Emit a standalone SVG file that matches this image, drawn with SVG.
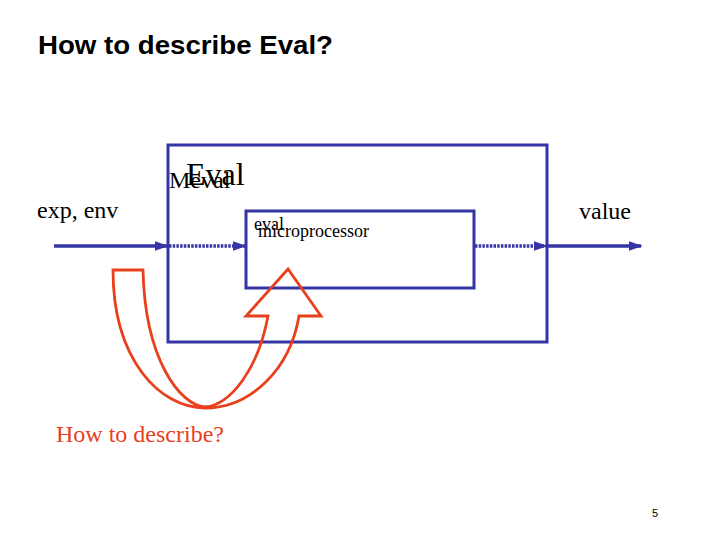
<svg xmlns="http://www.w3.org/2000/svg" width="720" height="540" viewBox="0 0 720 540">
<style>
.box{fill:none;stroke:#3535A5;stroke-width:3}
.solid{stroke:#3535A5;stroke-width:3.5;fill:none}
.dot{stroke:#3535A5;stroke-width:3.5;fill:none;stroke-dasharray:2.5 1.2}
.serif{font-family:"Liberation Serif","Times New Roman",serif;fill:#000}
</style>
<defs>
<marker id="ah" markerWidth="4" markerHeight="4" refX="3.5" refY="2" orient="auto" markerUnits="strokeWidth">
<path d="M0,0.6 L4,2 L0,3.4 Z" fill="#3535A5"/>
</marker>
</defs>
<rect width="720" height="540" fill="#fff"/>
<text x="38" y="54" font-family="Liberation Sans, Arial, sans-serif" font-weight="bold" font-size="25" textLength="295" lengthAdjust="spacingAndGlyphs">How to describe Eval?</text>
<g id="meval">
<rect class="box" x="168" y="145" width="379" height="197"/>
<text class="serif" x="169" y="188" font-size="24">Meval</text>
<text class="serif" x="186" y="185" font-size="32">Eval</text>
</g>
<g id="micro">
<rect class="box" x="246" y="211" width="228" height="77"/>
<text class="serif" x="254" y="230" font-size="18">eval</text>
<text class="serif" x="258" y="237" font-size="18">microprocessor</text>
</g>
<g id="connectors">
<line class="solid" x1="54" y1="246" x2="167" y2="246" marker-end="url(#ah)"/>
<line class="dot" x1="169" y1="246" x2="245" y2="246" marker-end="url(#ah)"/>
<line class="dot" x1="475" y1="246" x2="546" y2="246" marker-end="url(#ah)"/>
<line class="solid" x1="548" y1="246" x2="641" y2="246" marker-end="url(#ah)"/>
</g>
<g id="labels">
<text class="serif" x="37" y="218" font-size="24">exp, env</text>
<text class="serif" x="579" y="219" font-size="24">value</text>
</g>
<g id="uarrow">
<path d="M113,270 C113,360 160,408 205,408 C250,408 290,370 299,316 L321,316 L288,269 L246,316 L268,316 C258,370 230,405 205,407 C180,405 145,360 143,270 Z" fill="none" stroke="#E8401C" stroke-width="2.8" stroke-linejoin="miter"/>
<text x="56" y="442" font-family="Liberation Serif, Times New Roman, serif" font-size="24" fill="#E8401C">How to describe?</text>
</g>
<text x="652" y="517" font-family="Liberation Sans, Arial, sans-serif" font-size="11">5</text>
</svg>
